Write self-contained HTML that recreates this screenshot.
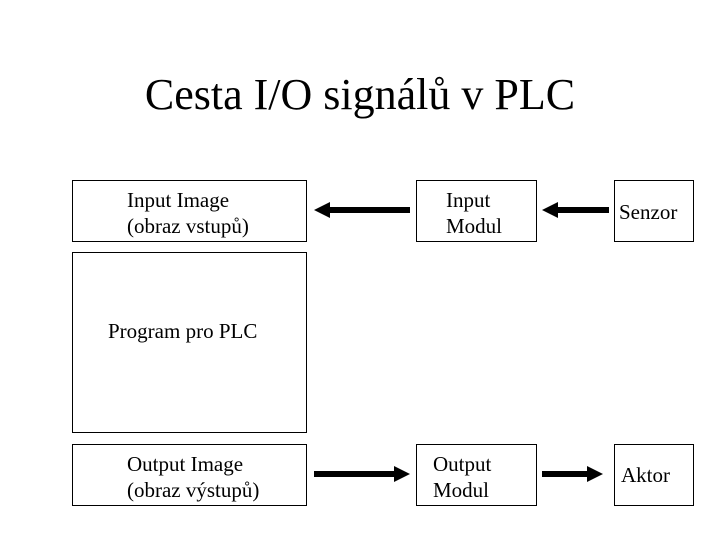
<!DOCTYPE html>
<html><head><meta charset="utf-8"><style>
body{margin:0;width:720px;height:540px;background:#fff;position:relative;overflow:hidden;font-family:"Liberation Serif",serif;color:#000}
.b{position:absolute;border:1.5px solid #000;box-sizing:border-box}
.t{position:absolute;font-size:21px;line-height:26px;white-space:nowrap}
</style></head><body>
<div class="t" style="left:0;width:720px;text-align:center;top:70px;font-size:44px;line-height:50px">Cesta I/O signálů v PLC</div>
<div class="b" style="left:72px;top:180px;width:235px;height:62px"></div>
<div class="b" style="left:72px;top:252px;width:235px;height:181px"></div>
<div class="b" style="left:72px;top:444px;width:235px;height:62px"></div>
<div class="b" style="left:416px;top:180px;width:121px;height:62px"></div>
<div class="b" style="left:416px;top:444px;width:121px;height:62px"></div>
<div class="b" style="left:614px;top:180px;width:80px;height:62px"></div>
<div class="b" style="left:614px;top:444px;width:80px;height:62px"></div>
<div class="t" style="left:127px;top:187px">Input Image<br>(obraz vstupů)</div>
<div class="t" style="left:108px;top:318px">Program pro PLC</div>
<div class="t" style="left:127px;top:451px">Output Image<br>(obraz výstupů)</div>
<div class="t" style="left:446px;top:187px">Input<br>Modul</div>
<div class="t" style="left:433px;top:451px">Output<br>Modul</div>
<div class="t" style="left:619px;top:199px">Senzor</div>
<div class="t" style="left:621px;top:462px">Aktor</div>
<svg width="720" height="540" style="position:absolute;left:0;top:0">
<g fill="#000">
<rect x="328" y="207" width="82" height="6"/><polygon points="314,210 330,202 330,218"/>
<rect x="556" y="207" width="53" height="6"/><polygon points="542,210 558,202 558,218"/>
<rect x="314" y="471" width="82" height="6"/><polygon points="410,474 394,466 394,482"/>
<rect x="542" y="471" width="47" height="6"/><polygon points="603,474 587,466 587,482"/>
</g></svg>
</body></html>
